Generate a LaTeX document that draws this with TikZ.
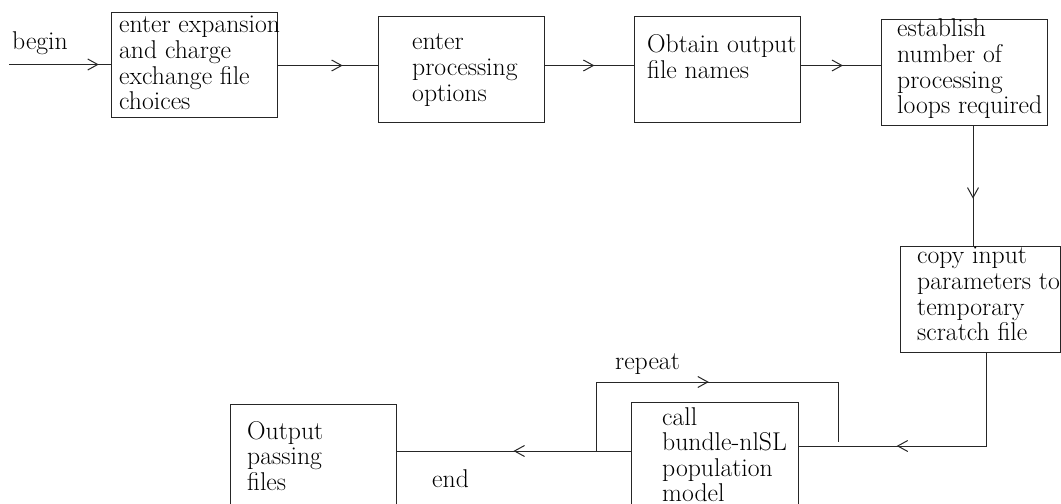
\documentclass[tikz,border=0pt]{standalone}
\usetikzlibrary{arrows.meta,decorations.markings}
\newcommand\mlines[1]{\begin{tabular}[t]{@{}l@{}}#1\end{tabular}}
\tikzset{
 box/.style={draw=black!85, line width=1bp, inner sep=0pt, outer sep=0pt, anchor=north west},
 txt/.style={anchor=base west, inner sep=0pt, font=\fontsize{25.8}{25.7}\selectfont},
 conn/.style={draw=black!85, line width=1bp},
 midarrow/.style={postaction={decorate,decoration={markings,mark=at position #1 with {\arrow{Straight Barb[length=10bp,width=11bp,line width=1bp]}}}}}
}
\begin{document}
\begin{tikzpicture}[x=1bp,y=-1bp]
\useasboundingbox (0,0) rectangle (1061,504);
\clip (0,0) rectangle (1061,504);
% boxes
\node[box, minimum width=166bp, minimum height=105bp] (b1) at (111,13) {};
\node[box, minimum width=166bp, minimum height=106bp] (b2) at (378,17) {};
\node[box, minimum width=166bp, minimum height=106bp] (b3) at (634,17) {};
\node[box, minimum width=166bp, minimum height=106bp] (b4) at (881,20) {};
\node[box, minimum width=160bp, minimum height=105bp] (b5) at (900,247) {};
\node[box, minimum width=167bp, minimum height=110bp] (b6) at (631,402) {};
\node[box, minimum width=166bp, minimum height=110bp] (b7) at (230,404) {};
% texts
\node[txt] (t1) at (119,33) {\mlines{enter expansion\\and charge\\exchange file\\choices}};
\node[txt] (t2) at (412,50) {\mlines{enter\\processing\\options}};
\node[txt] (t3) at (647,53) {\mlines{Obtain output\\file names}};
\node[txt] (t4) at (897,37) {\mlines{establish\\number of\\processing\\loops required}};
\node[txt] (t5) at (917,264) {\mlines{copy input\\parameters to\\temporary\\scratch file}};
\node[txt] (t6) at (662,425) {\mlines{call\\bundle-nlSL\\population\\model}};
\node[txt] (t7) at (247,439) {\mlines{Output\\passing\\files}};
% labels
\node[txt] (lbegin) at (12,50) {begin};
\node[txt] (lrepeat) at (615,370) {repeat};
\node[txt] (lendlbl) at (432,487) {end};
% connectors
\coordinate (start) at (9,64.5);
\draw[conn, midarrow=0.88] (start) -- (b1.west |- start);
\draw[conn, midarrow=0.65] (b1.east) -- (b2.west |- b1.east);
\draw[conn, midarrow=0.56] (b2.east |- b1.east) -- (b3.west |- b1.east);
\draw[conn, midarrow=0.53] (b3.east |- b1.east) -- (b4.west |- b1.east);
\draw[conn, midarrow=0.6] ([xshift=9bp]b4.south) -- ([xshift=9bp]b4.south |- b5.north);
\draw[conn, midarrow=0.65] ([xshift=6bp]b5.south) |- ([yshift=11bp]b6.east);
\coordinate (split) at (596,451);
\draw[conn, midarrow=0.5] (b6.west |- split) -- (b7.east |- split);
\coordinate (ltop) at (838,382);
\coordinate (loopend) at (838,442);
\draw[conn, midarrow=0.49] (split) |- (ltop) -- (loopend);
\end{tikzpicture}
\end{document}
